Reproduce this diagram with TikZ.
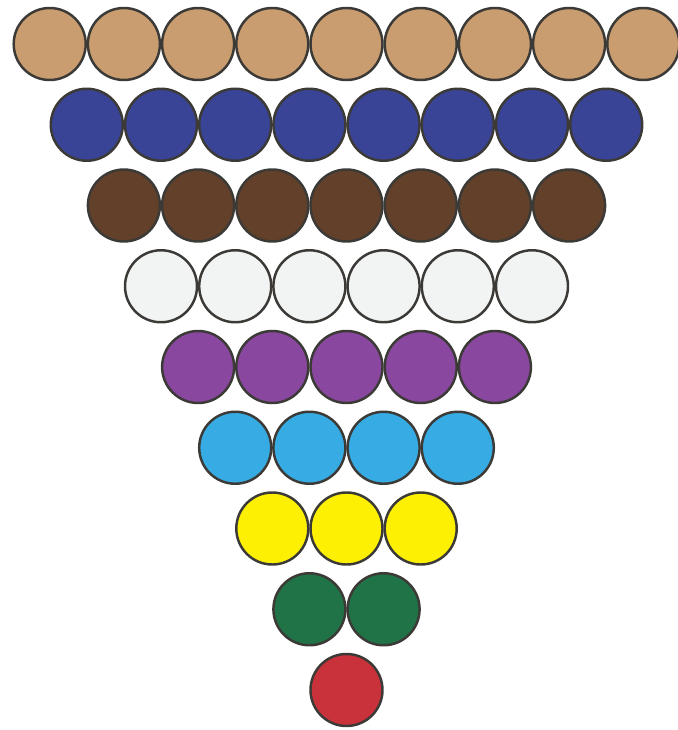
\documentclass[tikz,border=0pt]{standalone}
\usepackage{tikz}

\definecolor{beadline}{HTML}{3C3A36}
\definecolor{beadtan}{HTML}{C99D6F}
\definecolor{beadblue}{HTML}{3A4497}
\definecolor{beadbrown}{HTML}{63402A}
\definecolor{beadwhite}{HTML}{F2F3F3}
\definecolor{beadpurple}{HTML}{8A47A0}
\definecolor{beadcyan}{HTML}{37ACE4}
\definecolor{beadyellow}{HTML}{FDF002}
\definecolor{beadgreen}{HTML}{1F7346}
\definecolor{beadred}{HTML}{C9323B}

\begin{document}
\begin{tikzpicture}[x=0.03cm,y=-0.03cm,bead/.style={draw=beadline,line width=2.1pt}]
\useasboundingbox (0,0) rectangle (678,730);
% rows of beads, from 9 down to 1
\foreach \n/\col [count=\r from 0] in {9/beadtan,8/beadblue,7/beadbrown,6/beadwhite,5/beadpurple,4/beadcyan,3/beadyellow,2/beadgreen,1/beadred}{
  \foreach \i in {1,...,\n}{
    \draw[bead,fill=\col] ({346.5+(\i-(\n+1)/2)*74.2},{44+\r*80.75}) circle (1.08cm);
  }
}
\end{tikzpicture}
\end{document}
